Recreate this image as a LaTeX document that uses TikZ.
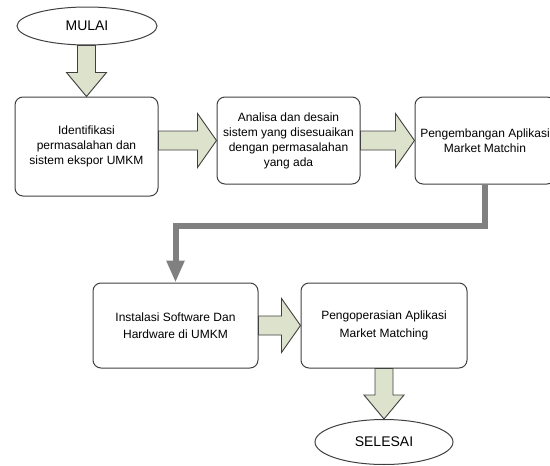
\documentclass[tikz,border=0pt]{standalone}
\usepackage{fontspec}
\setmainfont{Liberation Sans}
\usetikzlibrary{arrows,arrows.meta,shapes,calc}

\definecolor{arrowfill}{RGB}{221,226,204}
\definecolor{edgegray}{RGB}{64,64,64}
\definecolor{flowgray}{RGB}{128,128,128}

% fat block arrows between two named nodes
\newcommand{\harrow}[2]{%
  \draw[blockarrow] let \p1=(#1.east), \p2=(#2.west) in
    (\x1,\y2+9.5pt) -- (\x2-19pt,\y2+9.5pt) -- (\x2-19pt,\y2+27pt) -- (\x2,\y2)
    -- (\x2-19pt,\y2-27pt) -- (\x2-19pt,\y2-9.5pt) -- (\x1,\y2-9.5pt) -- cycle;}
\newcommand{\varrow}[2]{%
  \draw[blockarrow] let \p1=(#1.south), \p2=(#2.north) in
    (\x2-9pt,\y1) -- (\x2-9pt,\y2+24pt) -- (\x2-20pt,\y2+24pt) -- (\x2,\y2)
    -- (\x2+20pt,\y2+24pt) -- (\x2+9pt,\y2+24pt) -- (\x2+9pt,\y1) -- cycle;}

\begin{document}
\begin{tikzpicture}[x=1pt,y=-1pt,
  box/.style={draw=edgegray,line width=1pt,rounded corners=8pt,align=center,
    font=\fontsize{12}{15}\selectfont,inner sep=2pt},
  terminal/.style={draw=edgegray,ellipse,line width=1pt,inner sep=0pt,
    font=\fontsize{14}{16}\selectfont},
  blockarrow/.style={draw=edgegray,fill=arrowfill,line width=0.9pt,line join=miter},
  flow/.style={flowgray,line width=6pt,-{Triangle[length=22pt,width=17pt]}}]
  \useasboundingbox (0,0) rectangle (550,466);
  \clip (0,0) rectangle (550,466);
  % Start and end
  \path (87,26) node[terminal,minimum width=140pt,minimum height=38pt] (mulai) {MULAI};
  \path (384,442) node[terminal,minimum width=138pt,minimum height=45pt] (selesai) {SELESAI};
  % Process steps
  \path (86.5,146.5) node[box,minimum width=143pt,minimum height=99pt] (identifikasi)
    {Identifikasi\\permasalahan dan\\sistem ekspor UMKM};
  \path (288.5,140.5) node[box,minimum width=143pt,minimum height=87pt] (analisa)
    {Analisa dan desain\\sistem yang disesuaikan\\dengan permasalahan\\yang ada};
  \path (485,140.5) node[box,minimum width=140pt,minimum height=87pt] (pengembangan)
    {Pengembangan Aplikasi\\Market Matchin};
  \path (175.5,325.5) node[box,minimum width=165pt,minimum height=85pt,
    font=\fontsize{12}{17.5}\selectfont] (instalasi)
    {Instalasi Software Dan\\Hardware di UMKM};
  \path (384,325.5) node[box,minimum width=166pt,minimum height=85pt,
    font=\fontsize{12}{17.5}\selectfont] (operasi)
    {Pengoperasian Aplikasi\\Market Matching};
  % Connectors
  \varrow{mulai}{identifikasi}
  \harrow{identifikasi}{analisa}
  \harrow{analisa}{pengembangan}
  \draw[flow] (pengembangan.south) -- ++(0,41) -| (instalasi.north);
  \harrow{instalasi}{operasi}
  \varrow{operasi}{selesai}
\end{tikzpicture}
\end{document}
